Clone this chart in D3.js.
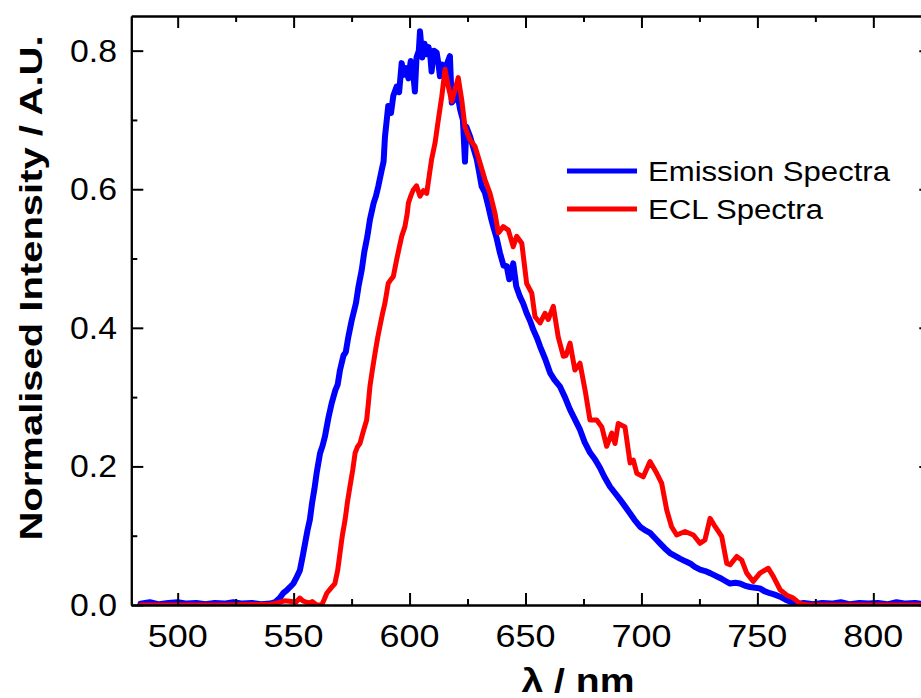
<!DOCTYPE html>
<html>
<head>
<meta charset="utf-8">
<script src="https://cdn.jsdelivr.net/npm/d3@7"></script>
<style>
    body { margin: 0; background: #fff; }
    svg { display: block; font-family: "Liberation Sans", Arial, sans-serif; }
</style>
</head>
<body>
<svg id="chart" width="921" height="698"></svg>
<script>
// 发射光谱 (波长 nm / 归一化强度)
const emissionWl = [484, 488, 492, 496, 500, 504, 508, 512, 516, 520, 524, 528, 532, 536, 540, 542,
    544, 545.5, 547, 548.5, 549.9, 551, 552.7, 554, 555, 556, 557, 558, 559, 560, 561.4, 562.5, 563.5,
    565, 566.4, 568, 569, 570, 571.5, 572.5, 573.6, 575, 576.9, 578, 579.4, 580.5, 581.8, 582.9,
    584.5, 585.5, 586.5, 588, 588.8, 589.4, 590.8, 592, 593, 594.4, 595.5, 596.6, 597.5, 598.5,
    599.5, 600.5, 601.5, 602.3, 603, 604, 604.5, 605.5, 606.5, 607.4, 608.2, 609, 609.5, 610.5,
    611.7, 612.5, 613.1, 614, 615, 616, 617.4, 618.2, 619.5, 620.5, 621.8, 623, 623.9, 624.5,
    626.1, 627.5, 629, 630, 631.1, 632.5, 634, 635, 636.1, 637.5, 639, 640.5, 641.9, 643, 644.7,
    646, 647.6, 649, 650.5, 652, 653.4, 655, 656.3, 658.5, 660.6, 662.5, 664.9, 667, 669.2, 671.3,
    673.5, 675.5, 677.8, 680, 682.1, 684, 686.4, 688.5, 690.8, 693, 695.1, 697, 699.4, 701.5,
    703.7, 706, 708, 710, 712.3, 714.5, 716.6, 719, 721, 723, 725.3, 727.5, 729.6, 732, 733.9,
    736, 738.2, 740.5, 742.5, 744.5, 746.8, 749, 751.1, 753, 755.4, 757.5, 759.8, 762, 764, 766,
    767, 770, 774, 778, 782, 786, 790, 794, 798, 802, 806, 810, 814, 818, 822, 824];
const emissionVal = [0.002, 0.004, 0.001, 0.003, 0.004, 0.002, 0.003, 0.001, 0.003, 0.002, 0.004, 0.002, 0.003, 0.001, 0.002, 0.004,
    0.010, 0.017, 0.021, 0.026, 0.031, 0.038, 0.050, 0.072, 0.090, 0.108, 0.123, 0.148, 0.168, 0.192, 0.219, 0.230, 0.243,
    0.270, 0.291, 0.310, 0.318, 0.339, 0.360, 0.365, 0.387, 0.410, 0.436, 0.460, 0.484, 0.510, 0.532, 0.556,
    0.580, 0.590, 0.604, 0.628, 0.640, 0.676, 0.720, 0.710, 0.735, 0.748, 0.740, 0.782, 0.765, 0.775,
    0.760, 0.785, 0.770, 0.741, 0.790, 0.800, 0.828, 0.790, 0.810, 0.795, 0.805, 0.790, 0.770, 0.800,
    0.797, 0.780, 0.763, 0.780, 0.770, 0.780, 0.792, 0.725, 0.730, 0.740, 0.715, 0.700, 0.640, 0.690,
    0.676, 0.660, 0.643, 0.625, 0.604, 0.595, 0.575, 0.560, 0.546, 0.530, 0.508, 0.490, 0.489, 0.470, 0.493,
    0.460, 0.445, 0.435, 0.421, 0.410, 0.397, 0.385, 0.373, 0.355, 0.335, 0.325, 0.315, 0.300, 0.282, 0.268,
    0.253, 0.235, 0.220, 0.210, 0.198, 0.185, 0.171, 0.162, 0.152, 0.142, 0.132, 0.123, 0.113, 0.108,
    0.104, 0.096, 0.089, 0.082, 0.075, 0.071, 0.067, 0.063, 0.060, 0.055, 0.051, 0.049, 0.046, 0.042, 0.039,
    0.035, 0.031, 0.032, 0.031, 0.028, 0.026, 0.025, 0.024, 0.020, 0.017, 0.015, 0.012, 0.008, 0.005, 0.002,
    0.001, 0.003, 0.001, 0.003, 0.002, 0.004, 0.001, 0.003, 0.002, 0.003, 0.001, 0.004, 0.002, 0.003, 0.001, 0.002];

// ECL 光谱
const eclWl = [484, 500, 520, 540, 543, 546, 549, 551, 552.7, 554, 555.5, 557, 558, 560, 562.1, 563.2,
    564.3, 566, 567.8, 569, 570, 571, 572.2, 573.2, 574.3, 575.5, 576.5, 577.5, 578.6, 580, 581.5,
    582.2, 582.9, 584, 585.1, 586.2, 587.2, 588.3, 589.4, 590.1, 590.8, 592, 593, 594.4, 595.5,
    596.6, 598, 599, 599.5, 600.5, 601.6, 603, 604.5, 606, 607.4, 608.5, 609.5, 611, 612.4, 613.9,
    615.3, 616.7, 618.2, 619.6, 621, 622.5, 623.9, 625, 626.1, 628.2, 630.4, 632.5, 634.7, 636.8,
    638.3, 640.4, 642.6, 644.7, 646.2, 648.4, 650.5, 652.7, 654.1, 656.3, 658.4, 659.8, 662, 664.1,
    666.3, 667.5, 669.2, 671.3, 673.5, 675.7, 677.8, 680.7, 682.9, 685, 687.2, 688.6, 690, 692.9,
    695.1, 696.5, 698, 700.8, 703.7, 706.6, 708.7, 710.9, 713, 715.2, 718.8, 722.4, 725.3, 727.4,
    729.6, 731.8, 734.6, 736.8, 738.2, 741.1, 743.2, 745.4, 748.2, 751.1, 754.7, 756.9, 759.8,
    762.7, 765.5, 768.4, 772, 790, 810, 824];
const eclVal = [0, 0, 0, 0.001, 0.003, 0.006, 0.005, 0.004, 0.010, 0.006, 0.004, 0.003, 0.005, 0, 0, 0.008,
    0.017, 0.024, 0.031, 0.050, 0.075, 0.100, 0.123, 0.148, 0.171, 0.195, 0.219, 0.228, 0.233, 0.250, 0.267,
    0.290, 0.315, 0.340, 0.363, 0.385, 0.402, 0.420, 0.436, 0.450, 0.464, 0.470, 0.474, 0.498, 0.515,
    0.532, 0.546, 0.565, 0.580, 0.590, 0.599, 0.605, 0.590, 0.598, 0.594, 0.620, 0.643, 0.667, 0.700, 0.734,
    0.773, 0.748, 0.727, 0.744, 0.761, 0.729, 0.690, 0.680, 0.671, 0.662, 0.638, 0.614, 0.594, 0.566,
    0.537, 0.546, 0.541, 0.517, 0.532, 0.522, 0.464, 0.450, 0.416, 0.407, 0.421, 0.412, 0.431, 0.387,
    0.359, 0.360, 0.378, 0.339, 0.349, 0.310, 0.267, 0.267, 0.257, 0.229, 0.248, 0.233, 0.262, 0.257,
    0.205, 0.209, 0.190, 0.185, 0.207, 0.190, 0.176, 0.137, 0.113, 0.101, 0.106, 0.101, 0.089, 0.094,
    0.125, 0.113, 0.099, 0.060, 0.058, 0.070, 0.065, 0.046, 0.034, 0.046, 0.053, 0.041, 0.022,
    0.014, 0.010, 0.002, 0, 0, 0, 0];

// 刻度
const xMajorTicks = [500, 550, 600, 650, 700, 750, 800];
const xMinorTicks = [525, 575, 625, 675, 725, 775];
const yMajorTicks = [0, 0.2, 0.4, 0.6, 0.8];
const yMinorTicks = [0.1, 0.3, 0.5, 0.7];
const seriesNames = ["Emission Spectra", "ECL Spectra"];
const seriesColors = ["#0000ff", "#ff0000"];

// 绘图区域
const plot = { left: 131.3, right: 931.3, top: 16, bottom: 605 };

const svg = d3.select("#chart");

const x = d3.scaleLinear().domain([480, 825]).range([plot.left, plot.right]);
const y = d3.scaleLinear().domain([0, 0.85]).range([plot.bottom, plot.top]);

// 裁剪
svg.append("clipPath").attr("id", "clip")
    .append("rect")
    .attr("x", plot.left).attr("y", plot.top)
    .attr("width", plot.right - plot.left).attr("height", plot.bottom - plot.top);

// 曲线
const line = d3.line()
    .x(d => x(d[0]))
    .y(d => y(d[1]));

const series = [
    d3.zip(emissionWl, emissionVal),
    d3.zip(eclWl, eclVal)
];

svg.append("g")
    .attr("clip-path", "url(#clip)")
    .selectAll("path")
    .data(series)
    .join("path")
    .attr("d", line)
    .attr("fill", "none")
    .attr("stroke", (d, i) => seriesColors[i])
    .attr("stroke-width", (d, i) => i === 0 ? 6 : 5)
    .attr("stroke-linejoin", "round")
    .attr("stroke-linecap", "round");

// 坐标轴样式
function styleAxis(g) {
    g.select(".domain").attr("stroke", "#000").attr("stroke-width", 2);
    g.selectAll(".tick line").attr("stroke", "#000").attr("stroke-width", 2);
}

// 上下左右四条轴，主刻度 + 次刻度，刻度朝内
function addAxis(axisFn, scale, pos, isX) {
    const tr = isX ? `translate(0,${pos})` : `translate(${pos},0)`;
    const major = isX ? xMajorTicks : yMajorTicks;
    const minor = isX ? xMinorTicks : yMinorTicks;
    svg.append("g")
        .attr("transform", tr)
        .call(axisFn(scale).tickValues(major).tickSize(-12).tickSizeOuter(0).tickFormat(""))
        .call(styleAxis);
    svg.append("g")
        .attr("transform", tr)
        .call(axisFn(scale).tickValues(minor).tickSize(-6).tickSizeOuter(0).tickFormat(""))
        .call(styleAxis);
}

addAxis(d3.axisBottom, x, plot.bottom, true);
addAxis(d3.axisTop, x, plot.top, true);
addAxis(d3.axisLeft, y, plot.left, false);
addAxis(d3.axisRight, y, plot.right, false);

// 刻度标签
svg.append("g")
    .selectAll("text")
    .data(xMajorTicks)
    .join("text")
    .attr("x", d => x(d))
    .attr("y", 647)
    .attr("text-anchor", "middle")
    .attr("font-size", 31)
    .attr("textLength", 60)
    .attr("lengthAdjust", "spacingAndGlyphs")
    .text(d => d);

svg.append("g")
    .selectAll("text")
    .data(yMajorTicks)
    .join("text")
    .attr("x", 117)
    .attr("y", d => y(d) + 11)
    .attr("text-anchor", "end")
    .attr("font-size", 31)
    .attr("textLength", 47)
    .attr("lengthAdjust", "spacingAndGlyphs")
    .text(d => d3.format(".1f")(d));

// 轴标题
svg.append("text")
    .attr("x", 578)
    .attr("y", 692)
    .attr("text-anchor", "middle")
    .attr("font-size", 34)
    .attr("font-weight", "bold")
    .attr("textLength", 113)
    .attr("lengthAdjust", "spacingAndGlyphs")
    .text("λ / nm");

svg.append("text")
    .attr("transform", "translate(42,288) rotate(-90)")
    .attr("text-anchor", "middle")
    .attr("font-size", 32)
    .attr("font-weight", "bold")
    .attr("textLength", 505)
    .attr("lengthAdjust", "spacingAndGlyphs")
    .text("Normalised Intensity / A.U.");

// 图例
const legend = svg.append("g")
    .selectAll("g")
    .data(seriesNames)
    .join("g")
    .attr("transform", (d, i) => `translate(567,${171 + i * 38})`);

legend.append("line")
    .attr("x1", 0).attr("x2", 70)
    .attr("stroke", (d, i) => seriesColors[i])
    .attr("stroke-width", 5);

legend.append("text")
    .attr("x", 81)
    .attr("y", 9.5)
    .attr("font-size", 27)
    .attr("textLength", (d, i) => i === 0 ? 242 : 175)
    .attr("lengthAdjust", "spacingAndGlyphs")
    .text(d => d);
</script>
</body>
</html>
